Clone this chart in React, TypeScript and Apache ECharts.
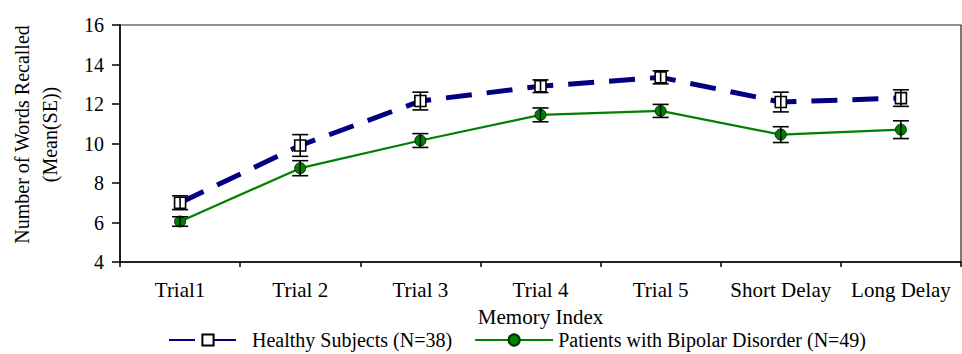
import React, { useEffect, useRef } from "react";
import * as echarts from "echarts";

const categories = ["Trial1", "Trial 2", "Trial 3", "Trial 4", "Trial 5", "Short Delay", "Long Delay"];
const healthyMean = [7.0, 9.9, 12.15, 12.9, 13.35, 12.1, 12.3];
const healthySE = [0.35, 0.55, 0.45, 0.32, 0.33, 0.5, 0.42];
const patientMean = [6.05, 8.75, 10.15, 11.45, 11.65, 10.45, 10.7];
const patientSE = [0.24, 0.38, 0.35, 0.35, 0.33, 0.4, 0.45];
const yTicks = { min: 4, max: 16, interval: 2 };
const healthyName = "Healthy Subjects (N=38)";
const patientName = "Patients with Bipolar Disorder (N=49)";

const FONT = "'Liberation Serif', 'Times New Roman', serif";

function errData(mean: number[], se: number[]) {
  return mean.map((m, i) => [i, m - se[i], m + se[i]]);
}

const renderErr = (params: any, api: any) => {
  const x = api.value(0);
  const lo = api.coord([x, api.value(1)]);
  const hi = api.coord([x, api.value(2)]);
  const w = 8;
  const st = { stroke: "#000", lineWidth: 1.6 };
  return {
    type: "group",
    children: [
      { type: "line", shape: { x1: lo[0], y1: lo[1], x2: hi[0], y2: hi[1] }, style: st },
      { type: "line", shape: { x1: lo[0] - w, y1: lo[1], x2: lo[0] + w, y2: lo[1] }, style: st },
      { type: "line", shape: { x1: hi[0] - w, y1: hi[1], x2: hi[0] + w, y2: hi[1] }, style: st },
    ],
  };
};

export default function App() {
  const ref = useRef<HTMLDivElement>(null);
  useEffect(() => {
    if (!ref.current) return;
    const chart = echarts.init(ref.current, null, { renderer: "svg" });
    chart.setOption({
      animation: false,
      textStyle: { fontFamily: FONT, color: "#000" },
      grid: {
        left: 114,
        right: 1,
        top: 25,
        bottom: 92,
        show: true,
        borderColor: "#222",
        borderWidth: 1.2,
      },
      legend: {
        data: [healthyName, patientName],
        left: 168,
        top: 330,
        padding: 0,
        itemWidth: 78,
        itemHeight: 14,
        itemGap: 22,
        textStyle: { fontFamily: FONT, fontSize: 20, lineHeight: 20, color: "#000" },
      },
      xAxis: {
        type: "category",
        data: categories,
        boundaryGap: true,
        name: "Memory Index",
        nameLocation: "middle",
        nameGap: 44,
        nameTextStyle: { fontFamily: FONT, fontSize: 21, color: "#000" },
        axisLine: { lineStyle: { color: "#000", width: 1.5 } },
        axisTick: { show: true, length: 5, alignWithLabel: false, lineStyle: { color: "#000", width: 1.5 } },
        axisLabel: { fontFamily: FONT, fontSize: 21, color: "#000", margin: 17, interval: 0 },
        splitLine: { show: false },
      },
      yAxis: {
        type: "value",
        min: yTicks.min,
        max: yTicks.max,
        interval: yTicks.interval,
        name: "Number of Words Recalled\n(Mean(SE))",
        nameLocation: "middle",
        nameRotate: 90,
        nameGap: 56,
        nameTextStyle: {
          fontFamily: FONT,
          fontSize: 20,
          lineHeight: 28,
          color: "#000",
          padding: [0, 0, 0, 18],
        },
        axisLine: { show: true, lineStyle: { color: "#000", width: 1.5 } },
        axisTick: { show: true, length: 8, lineStyle: { color: "#000", width: 1.5 } },
        axisLabel: { fontFamily: FONT, fontSize: 20, color: "#000", margin: 16 },
        splitLine: { show: false },
      },
      series: [
        {
          name: healthyName,
          type: "line",
          data: healthyMean,
          symbol: "rect",
          symbolSize: 11,
          z: 3,
          lineStyle: { color: "#000080", width: 5, type: [26, 15] },
          itemStyle: { color: "#fff", borderColor: "#000", borderWidth: 1.6 },
        },
        {
          name: patientName,
          type: "line",
          data: patientMean,
          symbol: "circle",
          symbolSize: 11,
          z: 3,
          lineStyle: { color: "#008000", width: 2.2 },
          itemStyle: { color: "#008000", borderColor: "#003300", borderWidth: 1 },
        },
        {
          type: "custom",
          name: "healthyErr",
          renderItem: renderErr,
          data: errData(healthyMean, healthySE),
          encode: { x: 0, y: [1, 2] },
          z: 5,
        },
        {
          type: "custom",
          name: "patientErr",
          renderItem: renderErr,
          data: errData(patientMean, patientSE),
          encode: { x: 0, y: [1, 2] },
          z: 5,
        },
      ],
    });
    return () => chart.dispose();
  }, []);
  return <div ref={ref} style={{ width: 962, height: 354, position: "absolute", left: 0, top: 0 }} />;
}
